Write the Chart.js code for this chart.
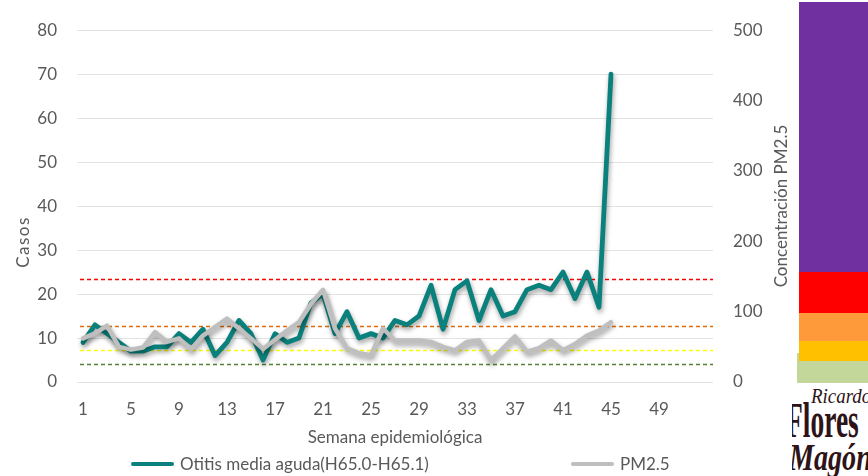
<!DOCTYPE html>
<html lang="es">
<head>
<meta charset="utf-8">
<title>Otitis media aguda y PM2.5 por semana epidemiológica</title>
<script src="https://cdn.jsdelivr.net/npm/chart.js@4.4.1/dist/chart.umd.min.js"></script>
<style>
  html, body { margin: 0; padding: 0; background: #fff; }
  #wrap { position: relative; width: 868px; height: 476px; overflow: hidden; font-family: Lato, "Open Sans", sans-serif; color: #595959; }
  #c { position: absolute; left: 0; top: 0; }
  .ytitle { position: absolute; font-size: 17px; font-weight: normal; white-space: nowrap; transform-origin: center center; }
  #legend { position: absolute; left: 0; top: 452px; width: 868px; height: 24px; font-size: 17px; }
  .lg-line { position: absolute; height: 4px; border-radius: 2px; top: 10px; }
  .lg-text { position: absolute; top: 1px; white-space: nowrap; }
  .band { position: absolute; }
  #logo { position: absolute; left: 792px; top: 383px; width: 76px; height: 93px; background: #fff; overflow: hidden; font-family: "Liberation Serif", "DejaVu Serif", serif; color: #2e1418; font-weight: bold; }
  #logo span { position: absolute; white-space: nowrap; transform-origin: left top; line-height: 1; }
</style>
</head>
<body>
<div id="wrap">
  <canvas id="c" width="868" height="476"></canvas>
  <div class="ytitle" style="left:-4px; top:232px; width:52px; height:20px; text-align:center; letter-spacing:1.5px; transform:rotate(-90deg);">Casos</div>
  <div class="ytitle" style="left:690px; top:196px; width:180px; height:20px; text-align:center; transform:rotate(-90deg);">Concentración PM2.5</div>
  <div id="legend"></div>

  <!-- Escala de color del índice de calidad del aire -->
  <div class="band" style="left:799px; top:2px;   width:69px; height:270px; background:#7030A0;"></div>
  <div class="band" style="left:799px; top:272px; width:69px; height:41px;  background:#FF0000;"></div>
  <div class="band" style="left:799px; top:313px; width:69px; height:28px;  background:#FF9A3A;"></div>
  <div class="band" style="left:797px; top:353px; width:71px; height:30px;  background:#C4D79B;"></div>
  <div class="band" style="left:799px; top:341px; width:69px; height:20px;  background:#FFC000;"></div>

  <div id="logo">
    <span style="left:19px; top:3px; font-size:21px; font-weight:normal; font-style:italic; transform:scaleX(0.9);">Ricardo</span>
    <span style="left:-6px; top:12px; font-size:50px; transform:scaleX(0.55);">Flores</span>
    <span style="left:-3px; top:55px; font-size:38px; font-style:italic; transform:scaleX(0.74);">Magón</span>
  </div>
</div>

<script>
// Semanas epidemiológicas 1–53
const semanas = Array.from({ length: 53 }, (_, i) => String(i + 1));

// Casos semanales de otitis media aguda (H65.0-H65.1), semanas 1–45
const casosOtitis = [
  9, 13, 11, 9, 7, 7, 8, 8, 11, 9,
  12, 6, 9, 14, 11, 5, 11, 9, 10, 18,
  20, 11, 16, 10, 11, 10, 14, 13, 15, 22,
  12, 21, 23, 14, 21, 15, 16, 21, 22, 21,
  25, 19, 25, 17, 70
];

// Concentración semanal de PM2.5 (µg/m³), semanas 1–45
const pm25 = [
  62, 69, 80, 50, 46, 49, 71, 57, 62, 46,
  66, 78, 90, 76, 62, 47, 60, 73, 85, 111,
  131, 76, 48, 41, 38, 76, 59, 59, 59, 57,
  50, 45, 57, 59, 31, 48, 65, 43, 48, 59,
  45, 54, 66, 73, 85
];

// Límites del índice de calidad del aire para PM2.5 (µg/m³)
const limitesPM25 = [25, 45, 79, 147];
const coloresLimites = ['#548235', '#FFFF00', '#E26B0A', '#FF0000'];

// Ticks visibles del eje de semanas (cada cuatro semanas)
const semanasVisibles = ['1', '5', '9', '13', '17', '21', '25', '29', '33', '37', '41', '45', '49'];

const TEAL = '#0A817C';
const GRIS = '#BFBFBF';
const TEXTO = '#595959';
const FUENTE = { family: 'Lato, "Open Sans", sans-serif', size: 17 };

// Líneas discontinuas de los límites sobre el eje derecho
const limitesPlugin = {
  id: 'limites',
  beforeDatasetsDraw(chart) {
    const { ctx, chartArea, scales } = chart;
    ctx.save();
    ctx.lineWidth = 1.6;
    ctx.setLineDash([4, 3]);
    limitesPM25.forEach((v, i) => {
      const y = Math.round(scales.y1.getPixelForValue(v)) + 0.5;
      ctx.strokeStyle = coloresLimites[i];
      ctx.beginPath();
      ctx.moveTo(chartArea.left + 3, y);
      ctx.lineTo(chartArea.right, y);
      ctx.stroke();
    });
    ctx.restore();
  }
};

// Sombra suave bajo cada serie
const sombraPlugin = {
  id: 'sombra',
  beforeDatasetDraw(chart) {
    const ctx = chart.ctx;
    ctx.save();
    ctx.shadowColor = 'rgba(0,0,0,0.38)';
    ctx.shadowBlur = 5;
    ctx.shadowOffsetX = 1;
    ctx.shadowOffsetY = 3;
  },
  afterDatasetDraw(chart) {
    chart.ctx.restore();
  }
};

const chart = new Chart(document.getElementById('c'), {
  type: 'line',
  data: {
    labels: semanas,
    datasets: [
      {
        label: 'Otitis media aguda(H65.0-H65.1)',
        data: casosOtitis,
        yAxisID: 'y',
        borderColor: TEAL,
        borderWidth: 4.8,
        pointRadius: 0,
        tension: 0,
        borderJoinStyle: 'round',
        borderCapStyle: 'round',
        order: 1
      },
      {
        label: 'PM2.5',
        data: pm25,
        yAxisID: 'y1',
        borderColor: GRIS,
        borderWidth: 4.5,
        pointRadius: 0,
        tension: 0,
        borderJoinStyle: 'round',
        borderCapStyle: 'round',
        order: 0
      }
    ]
  },
  options: {
    responsive: false,
    animation: false,
    devicePixelRatio: 1,
    layout: { padding: { top: 27, right: 78, bottom: 26, left: 0 } },
    plugins: {
      legend: { display: false },
      tooltip: { enabled: false }
    },
    scales: {
      x: {
        type: 'category',
        offset: true,
        grid: { display: false, drawTicks: false },
        border: { display: false },
        ticks: {
          autoSkip: false,
          maxRotation: 0,
          minRotation: 0,
          padding: 17,
          color: TEXTO,
          font: FUENTE,
          callback(value) {
            const lab = this.getLabelForValue(value);
            return semanasVisibles.includes(lab) ? lab : '';
          }
        },
        title: {
          display: true,
          text: 'Semana epidemiológica',
          color: TEXTO,
          font: FUENTE,
          padding: { top: 0, bottom: 2 }
        },
        afterFit(scale) { scale.height = 68; }
      },
      y: {
        position: 'left',
        min: 0,
        max: 80,
        ticks: { stepSize: 10, padding: 20, color: TEXTO, font: FUENTE },
        grid: { color: '#E3E3E3', lineWidth: 1, drawTicks: false },
        border: { display: false },
        afterFit(scale) { scale.width = 77; }
      },
      y1: {
        position: 'right',
        min: 0,
        max: 500,
        ticks: { stepSize: 100, padding: 20, color: TEXTO, font: FUENTE },
        grid: { drawOnChartArea: false, drawTicks: false },
        border: { display: false },
        afterFit(scale) { scale.width = 77; }
      }
    }
  },
  plugins: [limitesPlugin, sombraPlugin]
});

// Leyenda con los colores y nombres de las series
(function construirLeyenda() {
  const cont = document.getElementById('legend');
  const pos = [{ line: 131, text: 180 }, { line: 571, text: 620 }];
  chart.data.datasets.forEach((ds, i) => {
    const l = document.createElement('div');
    l.className = 'lg-line';
    l.style.left = pos[i].line + 'px';
    l.style.width = '43px';
    l.style.background = ds.borderColor;
    cont.appendChild(l);
    const t = document.createElement('div');
    t.className = 'lg-text';
    t.style.left = pos[i].text + 'px';
    t.textContent = ds.label;
    cont.appendChild(t);
  });
})();
</script>
</body>
</html>
